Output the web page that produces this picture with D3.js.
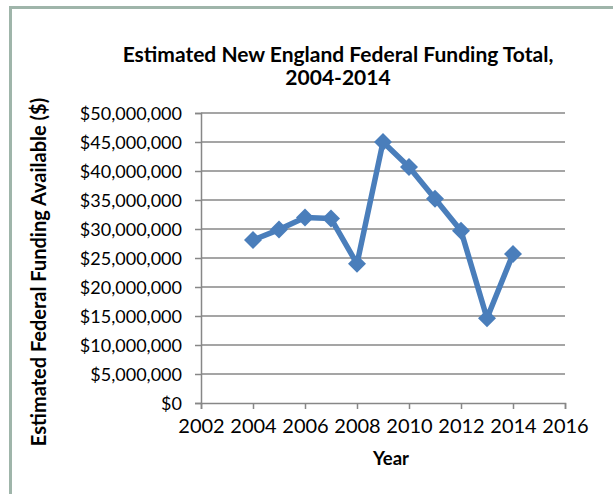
<!DOCTYPE html>
<html><head><meta charset="utf-8">
<script src="https://cdn.jsdelivr.net/npm/d3@7"></script>
<style>body{margin:0;background:#fff}svg{display:block}text{font-family:Lato,"Open Sans",sans-serif;fill:#000}</style>
</head><body>
<script>
const years = [2004,2005,2006,2007,2008,2009,2010,2011,2012,2013,2014];
const funding = [28100000,29900000,32000000,31800000,24000000,45000000,40700000,35200000,29700000,14600000,25700000];
const xTicks = [2002,2004,2006,2008,2010,2012,2014,2016];
const yTicks = [0,5e6,10e6,15e6,20e6,25e6,30e6,35e6,40e6,45e6,50e6];
const titleLines = ["Estimated New England Federal Funding Total,","2004-2014"];
const xTitle = "Year";
const yTitle = "Estimated Federal Funding Available ($)";

const W=613,H=494;
const svg=d3.select("body").append("svg").attr("width",W).attr("height",H);
svg.append("path").attr("d","M10.5,494V7.5H613").attr("fill","none").attr("stroke","#9fb5aa").attr("stroke-width",3);

const x=d3.scaleLinear().domain([2002,2016]).range([201,565]);
const y=d3.scaleLinear().domain([0,50e6]).range([403,113]);
const grid="#878787";

svg.append("g").selectAll("line").data(yTicks.filter(d=>d>0)).join("line")
 .attr("x1",x(2002)).attr("x2",x(2016)).attr("y1",d=>y(d)).attr("y2",d=>y(d))
 .attr("stroke",grid).attr("stroke-width",1.5);

const fmt=d=>"$"+d3.format(",")(d);
const ya=svg.append("g").attr("transform",`translate(${x(2002)},0)`)
 .call(d3.axisLeft(y).tickValues(yTicks).tickFormat(fmt).tickSize(6).tickPadding(13));
ya.select(".domain").attr("stroke",grid).attr("stroke-width",1.5);
ya.selectAll(".tick line").attr("stroke",grid).attr("stroke-width",1.5);
ya.selectAll("text").style("font-size","18px").attr("dy","0.35em");

const xa=svg.append("g").attr("transform",`translate(0,${y(0)})`)
 .call(d3.axisBottom(x).tickValues(xTicks).tickFormat(d3.format("d")).tickSize(6).tickPadding(10));
xa.select(".domain").attr("stroke",grid).attr("stroke-width",1.5);
xa.selectAll(".tick line").attr("stroke",grid).attr("stroke-width",1.5);
xa.selectAll("text").style("font-size","20px");

const line=d3.line().x((d,i)=>x(years[i])).y(d=>y(d));
svg.append("path").datum(funding).attr("d",line).attr("fill","none")
 .attr("stroke","#4a7ebb").attr("stroke-width",5.5).attr("stroke-linejoin","round");
svg.append("g").selectAll("path").data(funding).join("path")
 .attr("transform",(d,i)=>`translate(${x(years[i])},${y(d)})`)
 .attr("d","M0,-9L9,0L0,9L-9,0Z").attr("fill","#4a7ebb");

svg.append("g").selectAll("text").data(titleLines).join("text")
 .attr("x",338).attr("y",(d,i)=>62+i*23).attr("text-anchor","middle")
 .style("font-size","21px").style("font-weight","bold").text(d=>d);
svg.append("text").attr("x",391).attr("y",465).attr("text-anchor","middle")
 .style("font-size","18.5px").style("font-weight","bold").text(xTitle);
svg.append("text").attr("transform","translate(46,272) rotate(-90)").attr("text-anchor","middle")
 .style("font-size","20px").style("font-weight","bold").text(yTitle);
</script>
</body></html>
